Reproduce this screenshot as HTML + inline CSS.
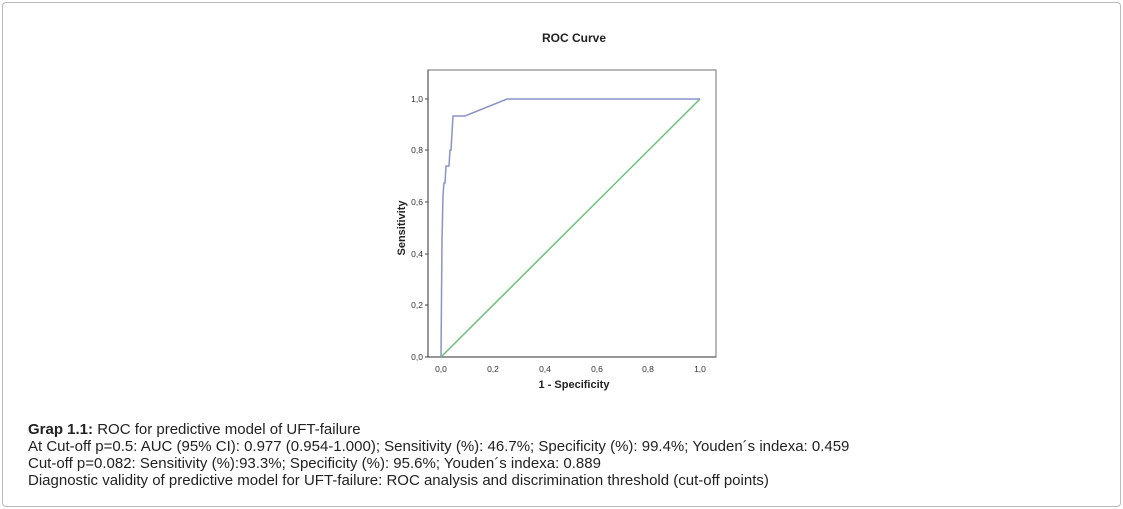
<!DOCTYPE html>
<html><head><meta charset="utf-8"><style>
body{margin:0;background:#fff;width:1123px;height:509px;overflow:hidden;font-family:"Liberation Sans",Arial,sans-serif}
.frame{position:absolute;left:2px;top:2px;width:1117px;height:503px;border:1px solid #bbb;border-radius:4px}
.cap{position:absolute;left:28px;top:421px;font-size:15px;line-height:17px;color:#222;white-space:nowrap}
</style></head><body>
<div class="frame"></div>
<svg width="1123" height="509" style="position:absolute;left:0;top:0" font-family="Liberation Sans,Arial,sans-serif">
<text x="574" y="42" font-size="12" font-weight="bold" text-anchor="middle" fill="#222">ROC Curve</text>
<rect x="428" y="70" width="288" height="287" fill="#fff" stroke="#888" stroke-width="1.2"/>
<g stroke="#444" stroke-width="1">
<line x1="428" y1="357" x2="716" y2="357"/>
<line x1="428" y1="70" x2="428" y2="357"/>
</g>
<g font-size="8.5" fill="#333" text-anchor="end">
<text x="423" y="360">0,0</text><text x="423" y="308">0,2</text><text x="423" y="257">0,4</text>
<text x="423" y="205">0,6</text><text x="423" y="153">0,8</text><text x="423" y="102">1,0</text>
</g>
<g stroke="#444"><line x1="425" y1="357" x2="428" y2="357"/><line x1="425" y1="305" x2="428" y2="305"/><line x1="425" y1="254" x2="428" y2="254"/><line x1="425" y1="202" x2="428" y2="202"/><line x1="425" y1="150" x2="428" y2="150"/><line x1="425" y1="99" x2="428" y2="99"/></g>
<g font-size="8.5" fill="#333" text-anchor="middle">
<text x="441" y="372">0,0</text><text x="493" y="372">0,2</text><text x="545" y="372">0,4</text>
<text x="597" y="372">0,6</text><text x="648" y="372">0,8</text><text x="700" y="372">1,0</text>
</g>
<text x="574" y="388" font-size="11" font-weight="bold" text-anchor="middle" fill="#222">1 - Specificity</text>
<text transform="translate(405,228) rotate(-90)" font-size="11" font-weight="bold" text-anchor="middle" fill="#222">Sensitivity</text>
<line x1="441" y1="357" x2="700" y2="99" stroke="#6cbf7a" stroke-width="1.5"/>
<polyline fill="none" stroke="#8a93c9" stroke-width="1.5" points="441,357 442,240 443,195 444,183 445,183 446,166 448,166 449,166 450,150 451,150 453,116 459,116 465,116 507,99 700,99"/>
</svg>
<div class="cap"><b>Grap 1.1:</b> ROC for predictive model of UFT-failure<br>At Cut-off p=0.5: AUC (95% CI): 0.977 (0.954-1.000); Sensitivity (%): 46.7%; Specificity (%): 99.4%; Youden´s indexa: 0.459<br>Cut-off p=0.082: Sensitivity (%):93.3%; Specificity (%): 95.6%; Youden´s indexa: 0.889<br>Diagnostic validity of predictive model for UFT-failure: ROC analysis and discrimination threshold (cut-off points)</div>
</body></html>
